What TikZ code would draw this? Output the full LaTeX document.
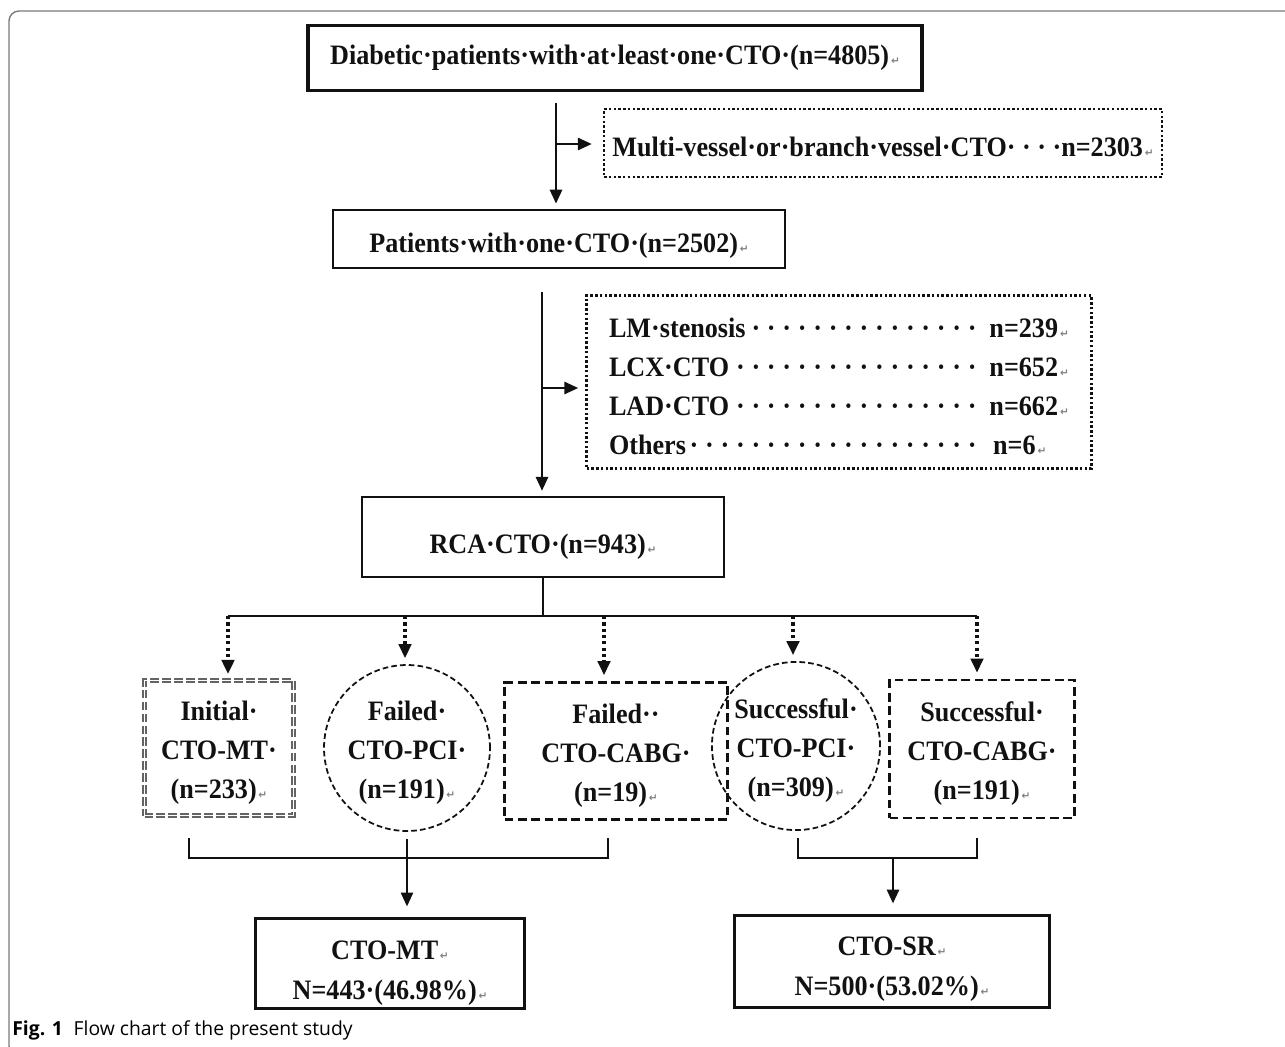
\documentclass[tikz,border=0pt]{standalone}
\usepackage{fontspec}
\setmainfont[FakeStretch=0.93]{Liberation Serif}
\newfontfamily\capfont{Open Sans}
\newfontfamily\markfont{DejaVu Sans}
\usetikzlibrary{arrows.meta,positioning}
\definecolor{ink}{HTML}{111111}
\definecolor{rim}{HTML}{7A7A7A}
\newcommand{\retmark}{{\markfont\fontsize{6}{6}\selectfont\color{gray}\,↵}}
\newcommand{\lead}{\leaders\hbox to 0.55em{\hss·\hss}\hfill}
\newcommand{\dn}[1]{\rule{0pt}{#1}}
\tikzset{boxtext/.style={font=\fontsize{16}{22.2}\selectfont\bfseries,align=center,inner sep=0pt,text=ink},
  solidbox/.style={boxtext,draw=ink,line width=1.5pt},
  dotbox/.style={boxtext,draw=ink,line width=1.4pt,dash pattern=on 1.4pt off 1.3pt},
  dashbox/.style={boxtext,draw=ink,line width=1.6pt,dash pattern=on 5pt off 2.6pt},
  dashring/.style={boxtext,circle,draw=ink,line width=1pt,dash pattern=on 3.2pt off 1.8pt},
  twinbox/.style={boxtext,draw=ink!65,double,double distance=1.1pt,line width=0.65pt,dash pattern=on 5pt off 1.8pt},
  link/.style={ink,line width=1.6pt},
  arr/.style={link,-{Triangle[length=0.28cm,width=0.24cm]}},
  dotarr/.style={ink,line width=1.8pt,dash pattern=on 1.8pt off 1.8pt,-{Triangle[length=0.28cm,width=0.25cm]}}}
\begin{document}
\begin{tikzpicture}[x=0.02cm,y=-0.02cm]
\useasboundingbox (0,0) rectangle (1285,1046);
\clip (0,0) rectangle (1285,1046);
\draw[rim,line width=0.8pt,rounded corners=0.2cm] (9,11) rectangle (1320,1056);
% screening
\node[solidbox,line width=1.9pt,minimum width=12.28cm,minimum height=1.3cm] (start) at (615,58) {Diabetic·patients·with·at·least·one·CTO·(n=4805)\retmark};
\node[dotbox,minimum width=11.16cm,minimum height=1.36cm] (multi) at (883,143) {\dn{16pt}Multi-vessel·or·branch·vessel·CTO· · · ·n=2303\retmark};
\node[solidbox,minimum width=9.04cm,minimum height=1.16cm] (single) at (559,239) {\dn{19pt}Patients·with·one·CTO·(n=2502)\retmark};
\node[dotbox,minimum width=10.1cm,minimum height=3.46cm,align=left] (other) at (839,382) {%
\makebox[9.2cm][l]{\dn{16pt}LM·stenosis\lead n=239\retmark}\\
\makebox[9.2cm][l]{LCX·CTO\lead n=652\retmark}\\
\makebox[9.2cm][l]{LAD·CTO\lead n=662\retmark}\\
\makebox[9.2cm][l]{Others\lead n=6\retmark\hspace{0.45cm}}};
\node[solidbox,line width=1.3pt,minimum width=7.24cm,minimum height=1.6cm] (rca) at (543,537) {\dn{22pt}RCA·CTO·(n=943)\retmark};
% strategies
\node[twinbox,minimum width=2.98cm,minimum height=2.7cm] (imt) at (219,748) {\dn{17pt}Initial·\\CTO-MT·\\(n=233)\retmark};
\node[dashring,minimum size=3.32cm] (fpci) at (407,748) {\dn{17pt}Failed·\\CTO-PCI·\\(n=191)\retmark};
\node[dashbox,minimum width=4.46cm,minimum height=2.74cm] (fcabg) at (616,751) {\dn{17pt}Failed··\\CTO-CABG·\\(n=19)\retmark};
\node[dashring,minimum size=3.32cm] (spci) at (796,746) {\dn{17pt}Successful·\\CTO-PCI·\\(n=309)\retmark};
\node[dashbox,minimum width=3.7cm,minimum height=2.76cm] (scabg) at (982,749) {\dn{17pt}Successful·\\CTO-CABG·\\(n=191)\retmark};
% groups
\node[solidbox,line width=1.7pt,minimum width=5.4cm,minimum height=1.8cm,font=\fontsize{16}{22.5}\selectfont\bfseries] (mt) at (390,963) {\dn{22pt}CTO-MT\retmark\\N=443·(46.98\%)\retmark};
\node[solidbox,line width=1.7pt,minimum width=6.3cm,minimum height=1.84cm,font=\fontsize{16}{22.5}\selectfont\bfseries] (sr) at (892,961) {\dn{20pt}CTO-SR\retmark\\N=500·(53.02\%)\retmark};
\node[anchor=base west,inner sep=0pt,font=\capfont\fontsize{11}{13}\selectfont] (cap) at (12,1035) {\textbf{Fig. 1}\hspace{0.55em}Flow chart of the present study};
\coordinate (s1) at (556,103);
\coordinate (b1) at (556,144);
\coordinate (s2) at (542,292);
\coordinate (b2) at (542,388);
\coordinate (busL) at (228,616);
\coordinate (busR) at (977,616);
\coordinate (lbrL) at (189,838);
\coordinate (lbrR) at (608,838);
\coordinate (rbrL) at (798,838);
\coordinate (rbrR) at (977,838);
\coordinate (rjoin) at (893,858);
\draw[arr,shorten >=0.1cm] (s1) -- (s1 |- single.north);
\draw[arr,shorten >=0.22cm] (b1) -- (b1 -| multi.west);
\draw[arr,shorten >=0.1cm] (s2) -- (s2 |- rca.north);
\draw[arr,shorten >=0.14cm] (b2) -- (b2 -| other.west);
\draw[link] (rca.south) -- (rca.south |- busL);
\draw[link] (busL) -- (busR);
\foreach \x/\n in {228/imt,405/fpci,604/fcabg,793/spci,977/scabg}
  \draw[dotarr,shorten >=0.12cm] (\x,616) -- ({\x},616 |- \n.north);
\draw[link] (lbrL) -- ++(0,20) -| (lbrR);
\draw[link] (rbrL) -- ++(0,20) -| (rbrR);
\draw[arr,shorten >=0.2cm] ([yshift=-0.14cm]fpci.south) -- (fpci.south |- mt.north);
\draw[arr,shorten >=0.2cm] (rjoin) -- (rjoin |- sr.north);
\end{tikzpicture}
\end{document}
